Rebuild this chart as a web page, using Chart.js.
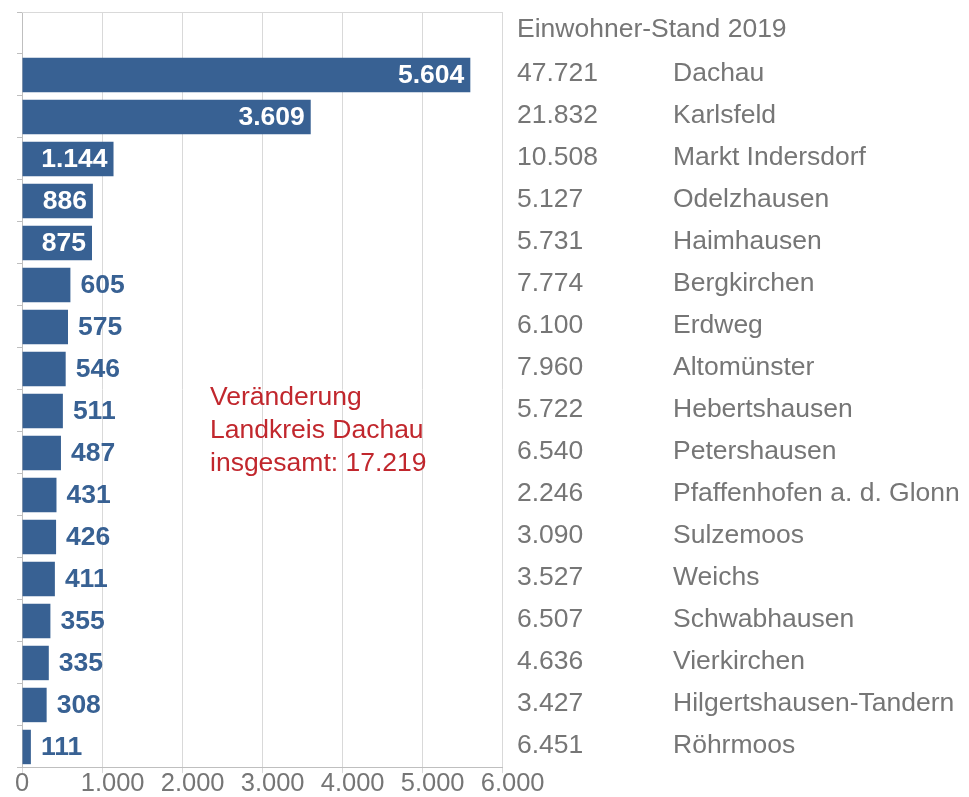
<!DOCTYPE html>
<html>
<head>
<meta charset="utf-8">
<script src="https://cdn.jsdelivr.net/npm/chart.js@4.4.1/dist/chart.umd.min.js"></script>
<style>
  html, body { margin: 0; padding: 0; background: #fff; }
  #wrap { width: 969px; height: 797px; }
</style>
</head>
<body>
<div id="wrap"><canvas id="einwohner"></canvas></div>
<script>
// Gemeinden im Landkreis Dachau
var gemeinden = ['Dachau', 'Karlsfeld', 'Markt Indersdorf', 'Odelzhausen', 'Haimhausen',
    'Bergkirchen', 'Erdweg', 'Altomünster', 'Hebertshausen', 'Petershausen',
    'Pfaffenhofen a. d. Glonn', 'Sulzemoos', 'Weichs', 'Schwabhausen', 'Vierkirchen',
    'Hilgertshausen-Tandern', 'Röhrmoos'];
var einwohner2019 = [47721, 21832, 10508, 5127, 5731, 7774, 6100, 7960, 5722, 6540,
    2246, 3090, 3527, 6507, 4636, 3427, 6451];
var veraenderung = [5604, 3609, 1144, 886, 875, 605, 575, 546, 511, 487,
    431, 426, 411, 355, 335, 308, 111];
var xTicks = [0, 1000, 2000, 3000, 4000, 5000, 6000];
var kopfzeile = 'Einwohner-Stand 2019';
var hinweis = ['Veränderung', 'Landkreis Dachau', 'insgesamt: 17.219'];

var blau = '#386193';
var grau = '#767676';
var rot = '#c1272d';
var schrift = 'Arial, "Liberation Sans", sans-serif';

function fmt(n) {
    return n.toLocaleString('de-DE');
}

// erste Zeile leer, dort steht die Überschrift
var labels = [''].concat(gemeinden);
var werte = [null].concat(veraenderung);

var textPlugin = {
    id: 'texte',
    afterDatasetsDraw: function (chart) {
        var ctx = chart.ctx;
        var xs = chart.scales.x;
        var ys = chart.scales.y;
        var area = chart.chartArea;
        ctx.save();

        // obere Linie
        ctx.strokeStyle = '#d9d9d9';
        ctx.lineWidth = 1;
        ctx.beginPath();
        ctx.moveTo(area.left, area.top + 0.5);
        ctx.lineTo(area.right, area.top + 0.5);
        ctx.stroke();

        // Werte an den Balken
        var meta = chart.getDatasetMeta(0);
        ctx.font = 'bold 26.5px ' + schrift;
        ctx.textBaseline = 'middle';
        meta.data.forEach(function (bar, i) {
            var v = werte[i];
            if (v === null) return;
            if (v > 800) {
                ctx.fillStyle = '#ffffff';
                ctx.textAlign = 'right';
                ctx.fillText(fmt(v), bar.x - 6, bar.y + 1);
            } else {
                ctx.fillStyle = blau;
                ctx.textAlign = 'left';
                ctx.fillText(fmt(v), bar.x + 10, bar.y + 1);
            }
        });

        // Tabelle rechts
        ctx.font = '26.5px ' + schrift;
        ctx.fillStyle = grau;
        ctx.textAlign = 'left';
        ctx.fillText(kopfzeile, 517, ys.getPixelForValue(0) - 3);
        gemeinden.forEach(function (g, i) {
            var y = ys.getPixelForValue(i + 1) - 1;
            ctx.fillText(fmt(einwohner2019[i]), 517, y);
            ctx.fillText(g, 673, y);
        });

        // Hinweis
        ctx.fillStyle = rot;
        var hx = xs.getPixelForValue(2350);
        var hy = ys.getPixelForValue(9) + 20;
        hinweis.forEach(function (t, k) {
            ctx.fillText(t, hx, hy + (k - 1) * 33);
        });
        ctx.restore();
    }
};

new Chart(document.getElementById('einwohner'), {
    type: 'bar',
    data: {
        labels: labels,
        datasets: [{
            data: werte,
            backgroundColor: blau,
            borderWidth: 0,
            barPercentage: 0.82,
            categoryPercentage: 1
        }]
    },
    options: {
        indexAxis: 'y',
        responsive: true,
        maintainAspectRatio: false,
        animation: false,
        layout: { padding: { top: 12, left: 17, right: 467, bottom: 3 } },
        plugins: {
            legend: { display: false },
            tooltip: { enabled: false }
        },
        scales: {
            x: {
                min: 0,
                max: 6000,
                afterBuildTicks: function (axis) {
                    axis.ticks = xTicks.map(function (v) { return { value: v }; });
                },
                grid: { color: '#d9d9d9', tickLength: 5 },
                border: { color: '#bfbfbf' },
                ticks: {
                    color: grau,
                    padding: -3,
                    autoSkip: false,
                    maxRotation: 0,
                    font: { family: schrift, size: 25.5, lineHeight: 1.06 },
                    // im Original stehen die Tausender etwas rechts vom Strich
                    callback: function (v) { return v === 0 ? fmt(v) : '   ' + fmt(v); }
                }
            },
            y: {
                offset: true,
                grid: { drawOnChartArea: false, color: '#bfbfbf', tickLength: 5 },
                border: { color: '#bfbfbf' },
                ticks: { display: false }
            }
        }
    },
    plugins: [textPlugin]
});
</script>
</body>
</html>
